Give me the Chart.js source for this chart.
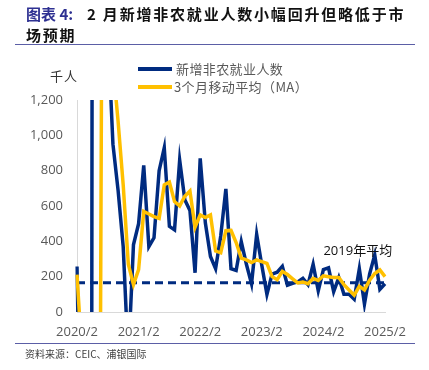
<!DOCTYPE html>
<html>
<head>
<meta charset="utf-8">
<script src="https://cdn.jsdelivr.net/npm/chart.js@4.4.1/dist/chart.umd.min.js"></script>
<style>
    body { margin: 0; background: #fff; }
    #wrap { position: relative; width: 429px; height: 370px; overflow: hidden; font-family: 'Noto Sans CJK SC', sans-serif; }
    #chart-box { position: absolute; left: 0; top: 0; width: 429px; height: 370px; }
    .txt { position: absolute; white-space: nowrap; }
    .lab { color: #2e3192; font-weight: bold; font-size: 15px; }
    .main { color: #111; font-weight: bold; font-size: 15px; letter-spacing: 1.8px; }
    .rule { position: absolute; left: 15px; width: 400px; height: 1px; background: #5b5ea6; }
    .leg-line { position: absolute; left: 138px; width: 34px; height: 4px; }
    .leg-txt { font-size: 13px; color: #595959; letter-spacing: 0.4px; line-height: 16px; }
</style>
</head>
<body>
<div id="wrap">
    <div id="chart-box"><canvas id="nfp-chart"></canvas></div>

    <div class="txt lab" style="left:26px; top:3px; line-height:21px;">图表 4:</div>
    <div class="txt main" style="left:87px; top:3px; line-height:21px;">2 月新增非农就业人数小幅回升但略低于市</div>
    <div class="txt main" style="left:26px; top:24px; line-height:21px;">场预期</div>
    <div class="rule" style="top:44px;"></div>

    <div class="leg-line" style="top:67px; background:#002b80;"></div>
    <div class="txt leg-txt" style="left:176px; top:61px;">新增非农就业人数</div>
    <div class="leg-line" style="top:85px; background:#ffc000;"></div>
    <div class="txt leg-txt" style="left:174px; top:79px;">3个月移动平均（MA）</div>

    <div class="txt" style="left:50px; top:68px; font-size:13px; letter-spacing:1px; color:#333; line-height:16px;">千人</div>

    <div class="rule" style="top:343px;"></div>
    <div class="txt" style="left:25px; top:347px; font-size:10px; color:#404040; line-height:14px;">资料来源：CEIC、浦银国际</div>
</div>

<script>
// months 2020/2 .. 2025/2
const months = [
    '2020/2','2020/3','2020/4','2020/5','2020/6','2020/7','2020/8','2020/9','2020/10','2020/11','2020/12',
    '2021/1','2021/2','2021/3','2021/4','2021/5','2021/6','2021/7','2021/8','2021/9','2021/10','2021/11','2021/12',
    '2022/1','2022/2','2022/3','2022/4','2022/5','2022/6','2022/7','2022/8','2022/9','2022/10','2022/11','2022/12',
    '2023/1','2023/2','2023/3','2023/4','2023/5','2023/6','2023/7','2023/8','2023/9','2023/10','2023/11','2023/12',
    '2024/1','2024/2','2024/3','2024/4','2024/5','2024/6','2024/7','2024/8','2024/9','2024/10','2024/11','2024/12',
    '2025/1','2025/2'
];
const tickLabels = ['2020/2', '2021/2', '2022/2', '2023/2', '2024/2', '2025/2'];

// 新增非农就业人数 (千人)
const nfp = [
    258, -1400, -20500, 2800, 4600, 1700, 1600, 950, 690, 370, -270,
    380, 500, 830, 370, 420, 800, 930, 485, 465, 860, 635, 575,
    222, 870, 505, 314, 245, 430, 697, 245, 235, 399, 270, 160,
    440, 265, 100, 215, 225, 258, 152, 162, 170, 190, 155, 270,
    120, 240, 250, 115, 195, 100, 100, 72, 245, 45, 215, 324,
    128, 160
];
// 3个月移动平均
const ma3 = [
    211, -260, -6500, -6400, -4400, 3000, 2650, 1400, 1080, 720, 270,
    155, 240, 569, 555, 540, 530, 720, 735, 625, 600, 655, 685,
    480, 550, 535, 550, 345, 335, 460, 462, 393, 305, 295, 280,
    295, 285, 275, 200, 183, 230, 212, 188, 165, 170, 160, 190,
    178, 205, 200, 195, 195, 155, 125, 95, 145, 125, 180, 218,
    238, 200
];
const avg2019 = 166;
const avgLabel = '2019年平均';
const avgLabelAt = '2024/2';
const avgLabelValue = 345;

const NAVY = '#002b80';
const YELLOW = '#ffc000';

Chart.defaults.font.family = "'Open Sans', 'Noto Sans CJK SC', sans-serif";

// dashed 2019 average line + its label
const avgLinePlugin = {
    id: 'avgLine',
    beforeDatasetsDraw(chart) {
        const { ctx, chartArea, scales } = chart;
        const y = scales.y.getPixelForValue(avg2019);
        ctx.save();
        ctx.strokeStyle = NAVY;
        ctx.lineWidth = 3;
        ctx.setLineDash([8, 5]);
        ctx.beginPath();
        ctx.moveTo(chartArea.left, y);
        ctx.lineTo(chartArea.right, y);
        ctx.stroke();
        ctx.restore();
    },
    afterDatasetsDraw(chart) {
        const { ctx, scales } = chart;
        ctx.save();
        ctx.font = "13px 'Open Sans', 'Noto Sans CJK SC', sans-serif";
        ctx.fillStyle = '#111';
        ctx.textAlign = 'left';
        ctx.textBaseline = 'middle';
        ctx.fillText(avgLabel, scales.x.getPixelForValue(months.indexOf(avgLabelAt)), scales.y.getPixelForValue(avgLabelValue));
        ctx.restore();
    }
};

const ctx = document.getElementById('nfp-chart').getContext('2d');
new Chart(ctx, {
    type: 'line',
    data: {
        labels: months,
        datasets: [{
            label: '3个月移动平均（MA）',
            data: ma3,
            borderColor: YELLOW,
            borderWidth: 3.5,
            pointRadius: 0,
            tension: 0
        }, {
            label: '新增非农就业人数',
            data: nfp,
            borderColor: NAVY,
            borderWidth: 3.5,
            pointRadius: 0,
            tension: 0
        }]
    },
    options: {
        responsive: true,
        maintainAspectRatio: false,
        animation: false,
        layout: { padding: { left: 0, right: 44, top: 100, bottom: 0 } },
        plugins: {
            legend: { display: false },
            tooltip: { enabled: false }
        },
        scales: {
            x: {
                grid: { display: false, drawTicks: false },
                border: { color: '#d9d9d9', width: 1 },
                ticks: {
                    autoSkip: false,
                    maxRotation: 0,
                    padding: 12,
                    color: '#595959',
                    font: { size: 13 },
                    callback: function(value, index) {
                        return tickLabels.includes(months[index]) ? months[index] : null;
                    }
                },
                afterFit: function(scale) { scale.height = 58; }
            },
            y: {
                min: 0,
                max: 1200,
                grid: { display: false, drawTicks: false },
                border: { color: '#d9d9d9', width: 1 },
                ticks: {
                    stepSize: 200,
                    padding: 14,
                    color: '#595959',
                    font: { size: 13 },
                    callback: function(value) { return value.toLocaleString('en-US'); }
                },
                afterFit: function(scale) { scale.width = 77; }
            }
        }
    },
    plugins: [avgLinePlugin]
});
</script>
</body>
</html>
